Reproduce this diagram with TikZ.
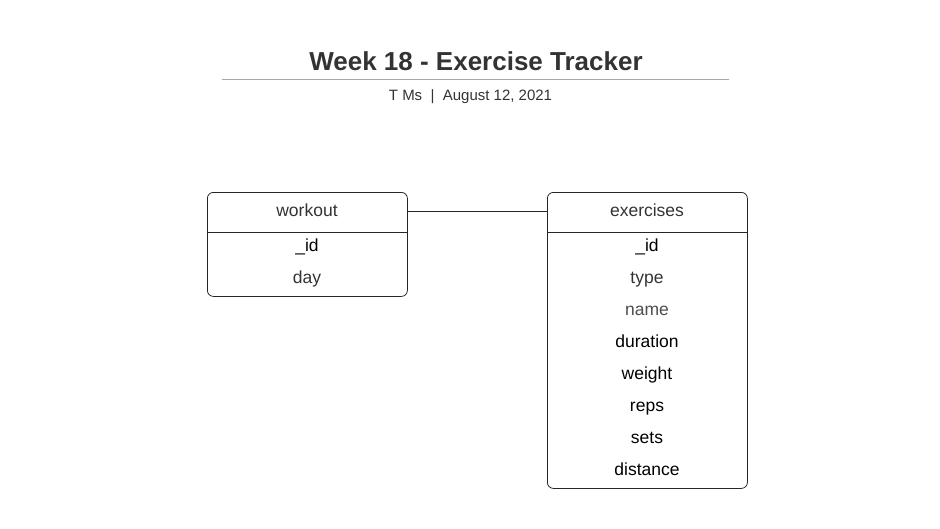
\documentclass[tikz,border=0pt]{standalone}
\usepackage{fontspec}
\setmainfont{Liberation Sans}
\usepackage{tikz}
\usetikzlibrary{positioning}

\definecolor{inkgray}{HTML}{333333}
\definecolor{softgray}{HTML}{4D4D4D}
\definecolor{rulegray}{HTML}{A3A7B0}

\begin{document}
\begin{tikzpicture}[x=1pt, y=-1pt,
  tablebox/.style={draw=black!85, rounded corners=6pt, minimum width=200pt, line width=0.8pt, inner sep=0pt},
  header/.style={font=\fontsize{17.5}{20}\selectfont, text=inkgray, inner sep=0pt, anchor=base},
  field/.style={font=\fontsize{17.5}{20}\selectfont, inner sep=0pt, anchor=base},
  link/.style={draw=black!85, line width=0.8pt}
]
\useasboundingbox (0,0) rectangle (940,528);

% title block
\node[font=\fontsize{26}{30}\selectfont\bfseries, text=inkgray, anchor=base] (title) at (476,70.5) {Week 18 - Exercise Tracker};
\draw[rulegray, line width=1.6pt] (222,79.5) -- (729,79.5);
\node[font=\fontsize{15}{18}\selectfont, text=inkgray, anchor=base] (author) at (470.5,100.5) {T Ms \ |\ \ August 12, 2021};

% workout table
\node[tablebox, minimum height=104pt, anchor=north west] (workout) at (207,192) {};
\draw[link] (207,232) -- (407,232);
\node[header] (workoutname) at (307,216) {workout};
\node[field, text=black] (wid) at (307,251) {\_id};
\node[field, text=inkgray] (wday) at (307,283) {day};

% exercises table
\node[tablebox, minimum height=296pt, anchor=north west] (exercises) at (547,192) {};
\draw[link] (547,232) -- (747,232);
\node[header] (exercisesname) at (647,216) {exercises};
\node[field, text=black] (eid) at (647,251) {\_id};
\node[field, text=inkgray] (etype) at (647,283) {type};
\node[field, text=softgray] (ename) at (647,315) {name};
\node[field, text=black] (eduration) at (647,347) {duration};
\node[field, text=black] (eweight) at (647,379) {weight};
\node[field, text=black] (ereps) at (647,411) {reps};
\node[field, text=black] (esets) at (647,443) {sets};
\node[field, text=black] (edistance) at (647,475) {distance};

% relation
\draw[link] (workout.east |- 0,211.5) -- (exercises.west |- 0,211.5);
\end{tikzpicture}
\end{document}
